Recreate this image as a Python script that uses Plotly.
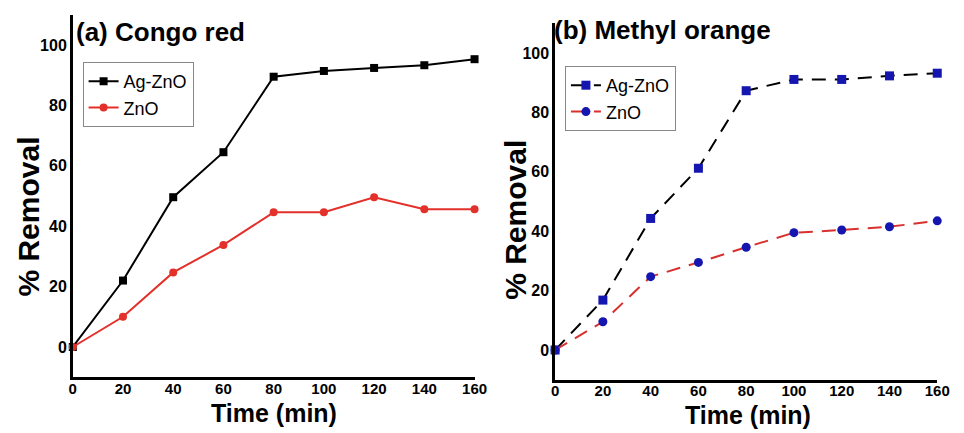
import plotly.graph_objects as go

time_min = [0, 20, 40, 60, 80, 100, 120, 140, 160]
cr_agzno = [0, 22, 49.6, 64.5, 89.5, 91.4, 92.4, 93.3, 95.3]
cr_zno = [0, 10, 24.7, 33.8, 44.6, 44.6, 49.6, 45.6, 45.6]
mo_agzno = [0, 16.8, 44.3, 61.2, 87.3, 91.1, 91.1, 92.3, 93.2]
mo_zno = [0, 9.5, 24.7, 29.5, 34.6, 39.5, 40.4, 41.5, 43.5]
x_ticks = [0, 20, 40, 60, 80, 100, 120, 140, 160]
y_ticks = [0, 20, 40, 60, 80, 100]

W, H = 964, 433
FONT = "Liberation Sans, Arial, sans-serif"
RED = "#e3302b"
BLUE = "#1515b0"

fig = go.Figure()
fig.add_trace(go.Scatter(x=time_min, y=cr_agzno, name="Ag-ZnO", mode="lines+markers",
                         line=dict(color="black", width=2),
                         marker=dict(symbol="square", size=8, color="black"),
                         xaxis="x", yaxis="y", legend="legend", cliponaxis=False))
fig.add_trace(go.Scatter(x=time_min, y=cr_zno, name="ZnO", mode="lines+markers",
                         line=dict(color=RED, width=2),
                         marker=dict(symbol="circle", size=8, color=RED),
                         xaxis="x", yaxis="y", legend="legend", cliponaxis=False))
fig.add_trace(go.Scatter(x=time_min, y=mo_agzno, name="Ag-ZnO", mode="lines+markers",
                         line=dict(color="black", width=2, dash="14px,9px"),
                         marker=dict(symbol="square", size=9, color=BLUE),
                         xaxis="x2", yaxis="y2", legend="legend2", cliponaxis=False))
fig.add_trace(go.Scatter(x=time_min, y=mo_zno, name="ZnO", mode="lines+markers",
                         line=dict(color="#d8302e", width=2, dash="14px,9px"),
                         marker=dict(symbol="circle", size=9, color=BLUE),
                         xaxis="x2", yaxis="y2", legend="legend2", cliponaxis=False))

tickfont_y = dict(family=FONT, size=16, color="black", weight="bold")
tickfont_x = dict(family=FONT, size=15, color="black", weight="bold")

def xax(domain, anchor):
    return dict(domain=domain, anchor=anchor, range=[0, 160], tickvals=x_ticks,
                showline=True, linecolor="black", linewidth=2.5, showgrid=False,
                zeroline=False, ticks="", tickfont=tickfont_x, ticklabelstandoff=-4)

def yax(domain, anchor):
    return dict(domain=domain, anchor=anchor, range=[-10, 110], tickvals=y_ticks,
                showline=True, linecolor="black", linewidth=2.5, showgrid=False,
                zeroline=False, ticks="", tickfont=tickfont_y, ticklabelstandoff=0)

fig.update_layout(
    width=W, height=H,
    margin=dict(l=0, r=0, t=0, b=0),
    paper_bgcolor="white", plot_bgcolor="white",
    xaxis=xax([70 / W, 479 / W], "y"),
    yaxis=yax([(H - 377.2) / H, (H - 14.8) / H], "x"),
    xaxis2=xax([561 / W, 950 / W], "y2"),
    yaxis2=yax([(H - 379.7) / H, (H - 23.3) / H], "x2"),
    legend=dict(x=80 / W, y=1 - 62 / H, xanchor="left", yanchor="top",
                bordercolor="#888888", borderwidth=1, bgcolor="white",
                font=dict(family=FONT, size=18, color="black"),
                tracegroupgap=0, itemwidth=30),
    legend2=dict(x=571 / W, y=1 - 66 / H, xanchor="left", yanchor="top",
                 bordercolor="#888888", borderwidth=1, bgcolor="white",
                 font=dict(family=FONT, size=18, color="black"),
                 tracegroupgap=0, itemwidth=30),
    showlegend=True,
)

def ann(text, x, y, size, angle=0):
    fig.add_annotation(text=text, x=x / W, y=1 - y / H, xref="paper", yref="paper",
                       showarrow=False, textangle=angle, xanchor="center", yanchor="middle",
                       font=dict(family=FONT, size=size, color="black", weight="bold"))

ann("(a) Congo red", 159, 32, 26)
ann("(b) Methyl orange", 670, 30, 26)
ann("% Removal", 24, 217, 30, -90)
ann("% Removal", 520, 220, 30, -90)
ann("Time (min)", 275, 413, 25)
ann("Time (min)", 757, 415, 25)

fig.write_html("out.html")
